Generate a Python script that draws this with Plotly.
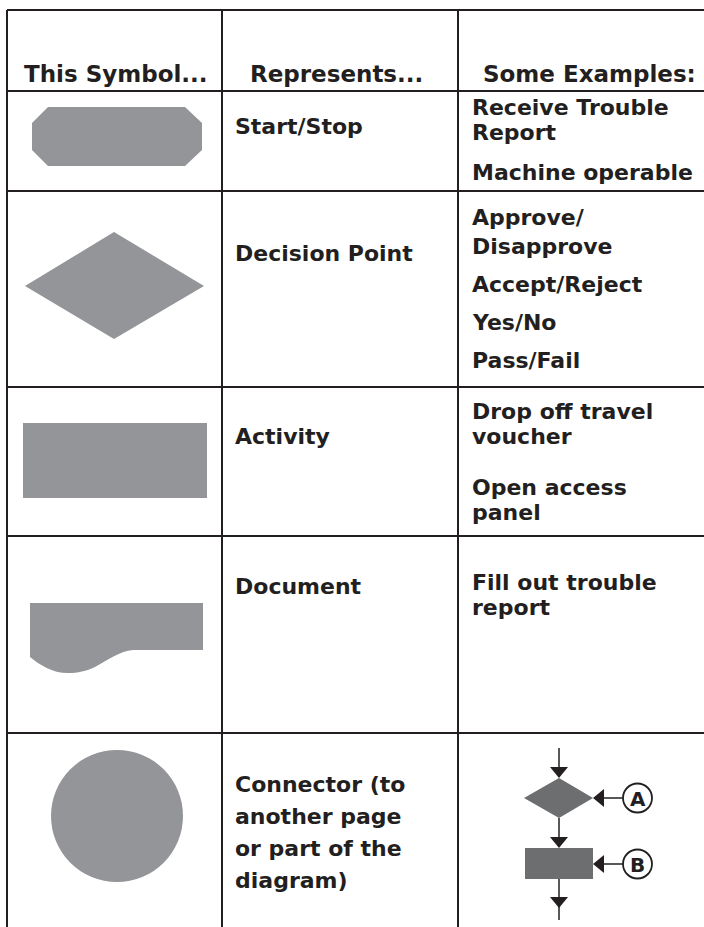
import plotly.graph_objects as go

# ---------------- content ----------------
headers = ["This Symbol...", "Represents...", "Some Examples:"]
meanings = [
    ["Start/Stop"],
    ["Decision Point"],
    ["Activity"],
    ["Document"],
    ["Connector (to", "another page", "or part of the", "diagram)"],
]
examples = [
    [["Receive Trouble", "Report"], ["Machine operable"]],
    [["Approve/", "Disapprove"], ["Accept/Reject"], ["Yes/No"], ["Pass/Fail"]],
    [["Drop off travel", "voucher"], ["Open access", "panel"]],
    [["Fill out trouble", "report"]],
    [],
]
connector_labels = ["A", "B"]

# ---------------- layout (pixel geometry) ----------------
W, H = 704, 927
INK = "#231f20"
GREY = "#939598"
DARK = "#6d6e70"
FONT = "DejaVu Sans"

col_x = [7, 222, 458]
table_top = 10
row_lines = [91, 191, 387, 536, 733]

header_cx = [116, 336, 589]
header_cy = 74
meaning_x = 233
meaning_y = [[126], [253], [436], [586], [784, 816, 848, 880]]
example_x = 470
example_y = [
    [[107, 132], [172]],
    [[217, 246], [284], [322], [360]],
    [[411, 436], [487, 512]],
    [[582, 607]],
    [],
]

shapes = []
annotations = []

def line(x0, y0, x1, y1, w=2, c=INK):
    shapes.append(dict(type="line", x0=x0, y0=y0, x1=x1, y1=y1, xref="x", yref="y",
                       line=dict(color=c, width=w)))

def poly(pts, fill, close=True):
    p = "M" + " L".join(f"{x},{y}" for x, y in pts) + (" Z" if close else "")
    shapes.append(dict(type="path", path=p, xref="x", yref="y", fillcolor=fill,
                       line=dict(width=0)))

def text(x, y, s, size=22, anchor="left"):
    annotations.append(dict(x=x, y=y, xref="x", yref="y", text=s, showarrow=False,
                            xanchor=anchor, yanchor="middle",
                            font=dict(family=FONT, size=size, color=INK, weight="bold")))

# grid
line(col_x[0], table_top, W, table_top)
for cx in col_x:
    line(cx, table_top, cx, H)
for ry in row_lines:
    line(col_x[0], ry, W, ry)

# header
for s, cx in zip(headers, header_cx):
    text(cx, header_cy, s, size=23, anchor="center")

# meanings
for lines_, ys in zip(meanings, meaning_y):
    for s, y in zip(lines_, ys):
        text(meaning_x, y, s)

# examples
for items, ys in zip(examples, example_y):
    for item, iy in zip(items, ys):
        for s, y in zip(item, iy):
            text(example_x, y, s)

# symbols
poly([(48, 107), (185, 107), (202, 123), (202, 150), (185, 166), (48, 166), (32, 150), (32, 123)], GREY)
poly([(25, 286), (114, 232), (204, 286), (114, 339)], GREY)
shapes.append(dict(type="rect", x0=23, y0=423, x1=207, y1=498, xref="x", yref="y",
                   fillcolor=GREY, line=dict(width=0)))
shapes.append(dict(type="path", xref="x", yref="y", fillcolor=GREY, line=dict(width=0),
                   path="M30,603 L203,603 L203,650 L133,650 C120,651 108,660 95,667 "
                        "C86,671 78,673 68,673 C52,673 40,665 30,657 Z"))
shapes.append(dict(type="circle", x0=51, y0=750, x1=183, y1=882, xref="x", yref="y",
                   fillcolor=GREY, line=dict(width=0)))

# connector example
cx0 = 559
line(cx0, 748, cx0, 770, w=1.5)
poly([(cx0 - 9, 767), (cx0 + 9, 767), (cx0, 778)], INK)
poly([(524, 798), (cx0, 778), (593, 798), (cx0, 818)], DARK)
line(cx0, 818, cx0, 840, w=1.5)
poly([(cx0 - 9, 837), (cx0 + 9, 837), (cx0, 848)], INK)
shapes.append(dict(type="rect", x0=525, y0=848, x1=593, y1=879, xref="x", yref="y",
                   fillcolor=DARK, line=dict(width=0)))
line(cx0, 879, cx0, 920, w=1.5)
poly([(cx0 - 9, 897), (cx0 + 9, 897), (cx0, 908)], INK)

for lab, yy in zip(connector_labels, [798, 864]):
    line(623, yy, 601, yy, w=1.5)
    poly([(604, yy - 9), (604, yy + 9), (593, yy)], INK)
    shapes.append(dict(type="circle", x0=623, y0=yy - 14.5, x1=652, y1=yy + 14.5,
                       xref="x", yref="y", fillcolor="white", line=dict(color=INK, width=1.8)))
    text(637.5, yy + 0.5, lab, size=20, anchor="center")

fig = go.Figure()
fig.update_layout(
    width=W, height=H, margin=dict(l=0, r=0, t=0, b=0),
    paper_bgcolor="white", plot_bgcolor="white",
    xaxis=dict(range=[0, W], visible=False, fixedrange=True),
    yaxis=dict(range=[H, 0], visible=False, fixedrange=True),
    shapes=shapes, annotations=annotations, showlegend=False,
)
fig.write_html("out.html", post_script="document.body.style.margin='0';",
               config={"displayModeBar": False})
